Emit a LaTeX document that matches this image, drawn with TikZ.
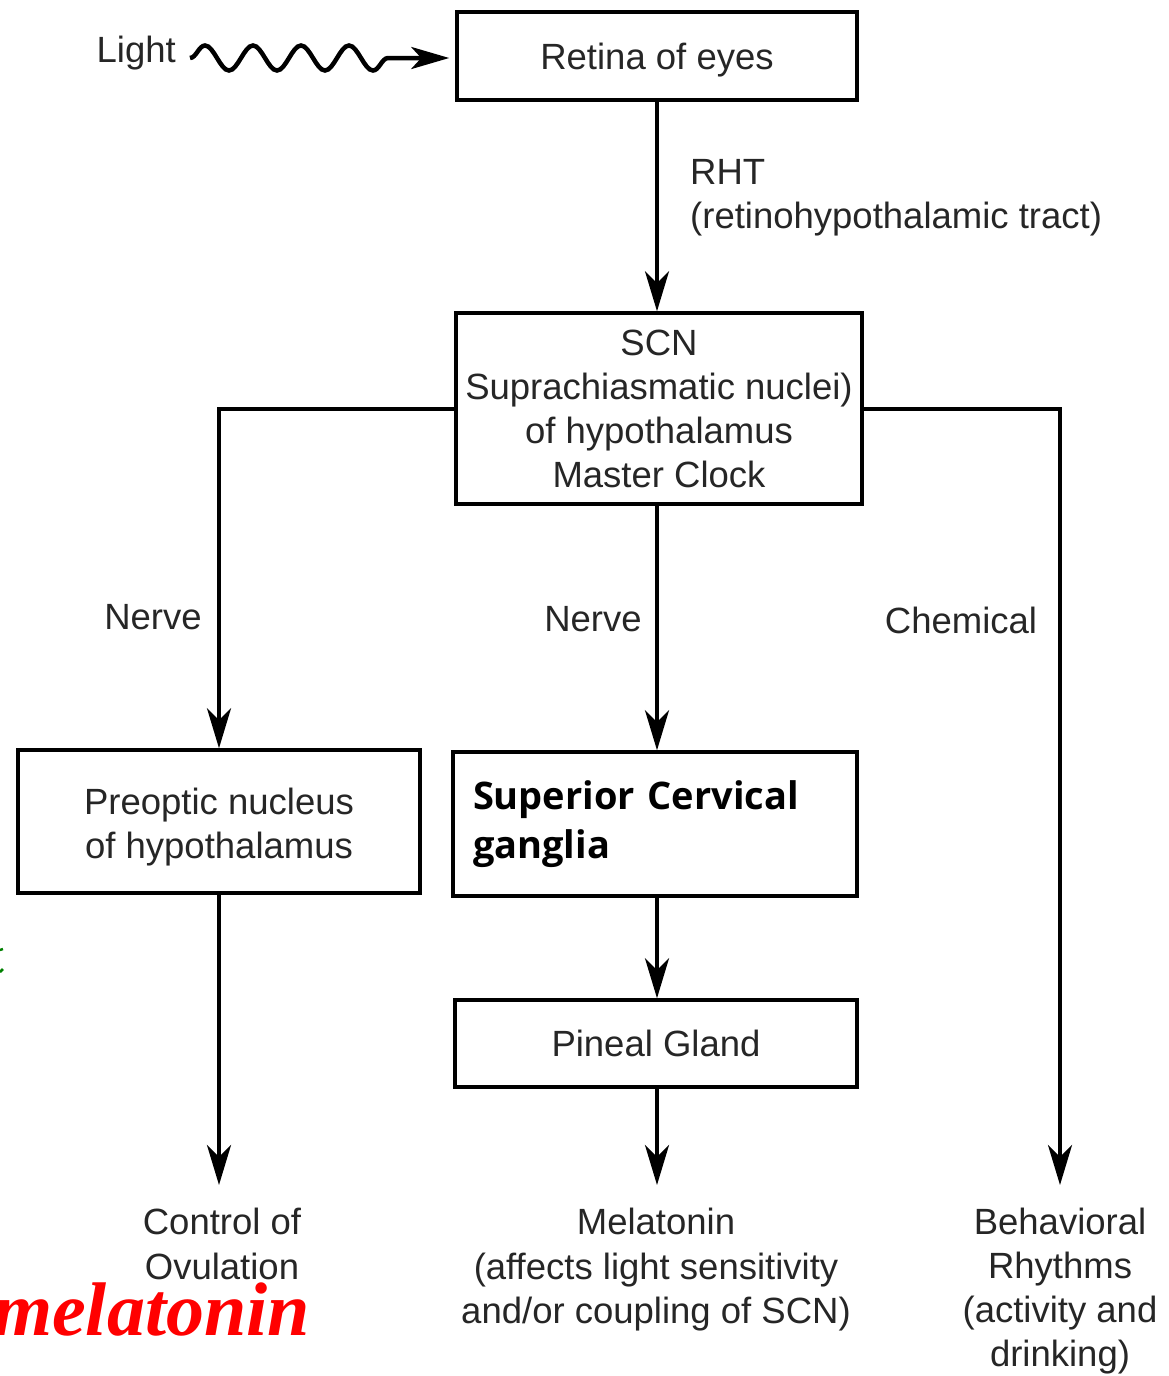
\documentclass[tikz,border=0pt]{standalone}
\usepackage{fontspec}
\setmainfont{Liberation Sans}
\newfontfamily\scgfont{Open Sans}
\newfontfamily\redserif{Liberation Serif}
\usetikzlibrary{arrows.meta,decorations.pathmorphing}
\definecolor{ink}{HTML}{262626}
\begin{document}
\begin{tikzpicture}[x=1pt,y=-1pt,
  every node/.style={text=ink},
  mainfont/.style={font=\fontsize{36.5}{44}\selectfont},
  box/.style={draw=black, line width=3.5pt, fill=white, mainfont, align=center, inner sep=0pt},
  lbl/.style={mainfont, inner sep=0pt},
  arr/.style={line width=4pt, -{Stealth[length=40pt,width=24pt,inset=12pt]}},
  plain/.style={line width=4pt}]
\useasboundingbox (0,0) rectangle (1169,1376);

% boxes
\node[box, minimum width=400, minimum height=88] (retina) at (657,56)
  {\raisebox{-4pt}[\height][\depth]{Retina of eyes}};
\node[box, minimum width=406, minimum height=191] (scn) at (659,408.5)
  {SCN\\Suprachiasmatic nuclei)\\of hypothalamus\\Master Clock};
\node[box, minimum width=402, minimum height=143] (preoptic) at (219,821.5)
  {\raisebox{-6pt}[\height][\depth]{\shortstack{Preoptic nucleus\\[7pt]of hypothalamus}}};
\node[box, minimum width=404, minimum height=144, text width=364, align=left,
      inner xsep=20, font=\scgfont\bfseries\fontsize{38}{49}\selectfont,
      text=black] (scg) at (655,824) {Superior Cervical\\ganglia};
\node[box, minimum width=402, minimum height=87] (pineal) at (656,1043.5) {Pineal Gland};

% end texts
\node[lbl, align=center, anchor=north] (ovul) at (222,1208) {Control of\\[1pt]Ovulation};
\node[lbl, align=center, anchor=north] (melout) at (656,1208)
  {Melatonin\\[1pt](affects light sensitivity\\and/or coupling of SCN)};
\node[lbl, align=center, anchor=north] (behav) at (1060,1208)
  {Behavioral\\Rhythms\\(activity and\\drinking)};

% labels
\node[lbl, anchor=base east] (light) at (176,62) {Light};
\coordinate (lightend) at (190,58);
\node[lbl, align=left, anchor=north west] (rht) at (690,159) {RHT\\(retinohypothalamic tract)};
\node[lbl] (nerveL) at (153,617) {Nerve};
\node[lbl] (nerveM) at (593,619) {Nerve};
\node[lbl] (chem) at (961,620) {Chemical};

% connectors
\draw[line width=4.5pt, decorate,
      decoration={snake, segment length=48pt, amplitude=12.5pt, pre length=0pt, post length=60pt},
      -{Stealth[length=38pt,width=22pt,inset=10pt]}, shorten >=6pt]
  (lightend) -- (lightend -| retina.west);
\draw[arr] (retina.south) -- (retina.south |- scn.north);
\draw[arr] (scn.west) -| (preoptic.north);
\draw[arr, shorten >=23pt] (scn.east) -| (behav.north);
\draw[arr] (scn.south -| retina.south) -- (retina.south |- scg.north);
\draw[arr] (scg.south -| retina.south) -- (retina.south |- pineal.north);
\draw[arr, shorten >=23pt] (pineal.south -| retina.south) -- (retina.south |- melout.north);
\draw[arr, shorten >=23pt] (preoptic.south) -- (preoptic.south |- ovul.north);

% overlay text
\node[anchor=base east, inner sep=0pt, text=red,
      font=\redserif\bfseries\itshape\fontsize{76}{80}\selectfont] (redmel) at (310,1335) {melatonin};

% clipped green marks at left edge
\draw[green!50!black, line width=2.5pt] (0,950) -- (3,949);
\draw[green!50!black, line width=2.5pt] (0,972) -- (3,969);
\end{tikzpicture}
\end{document}
